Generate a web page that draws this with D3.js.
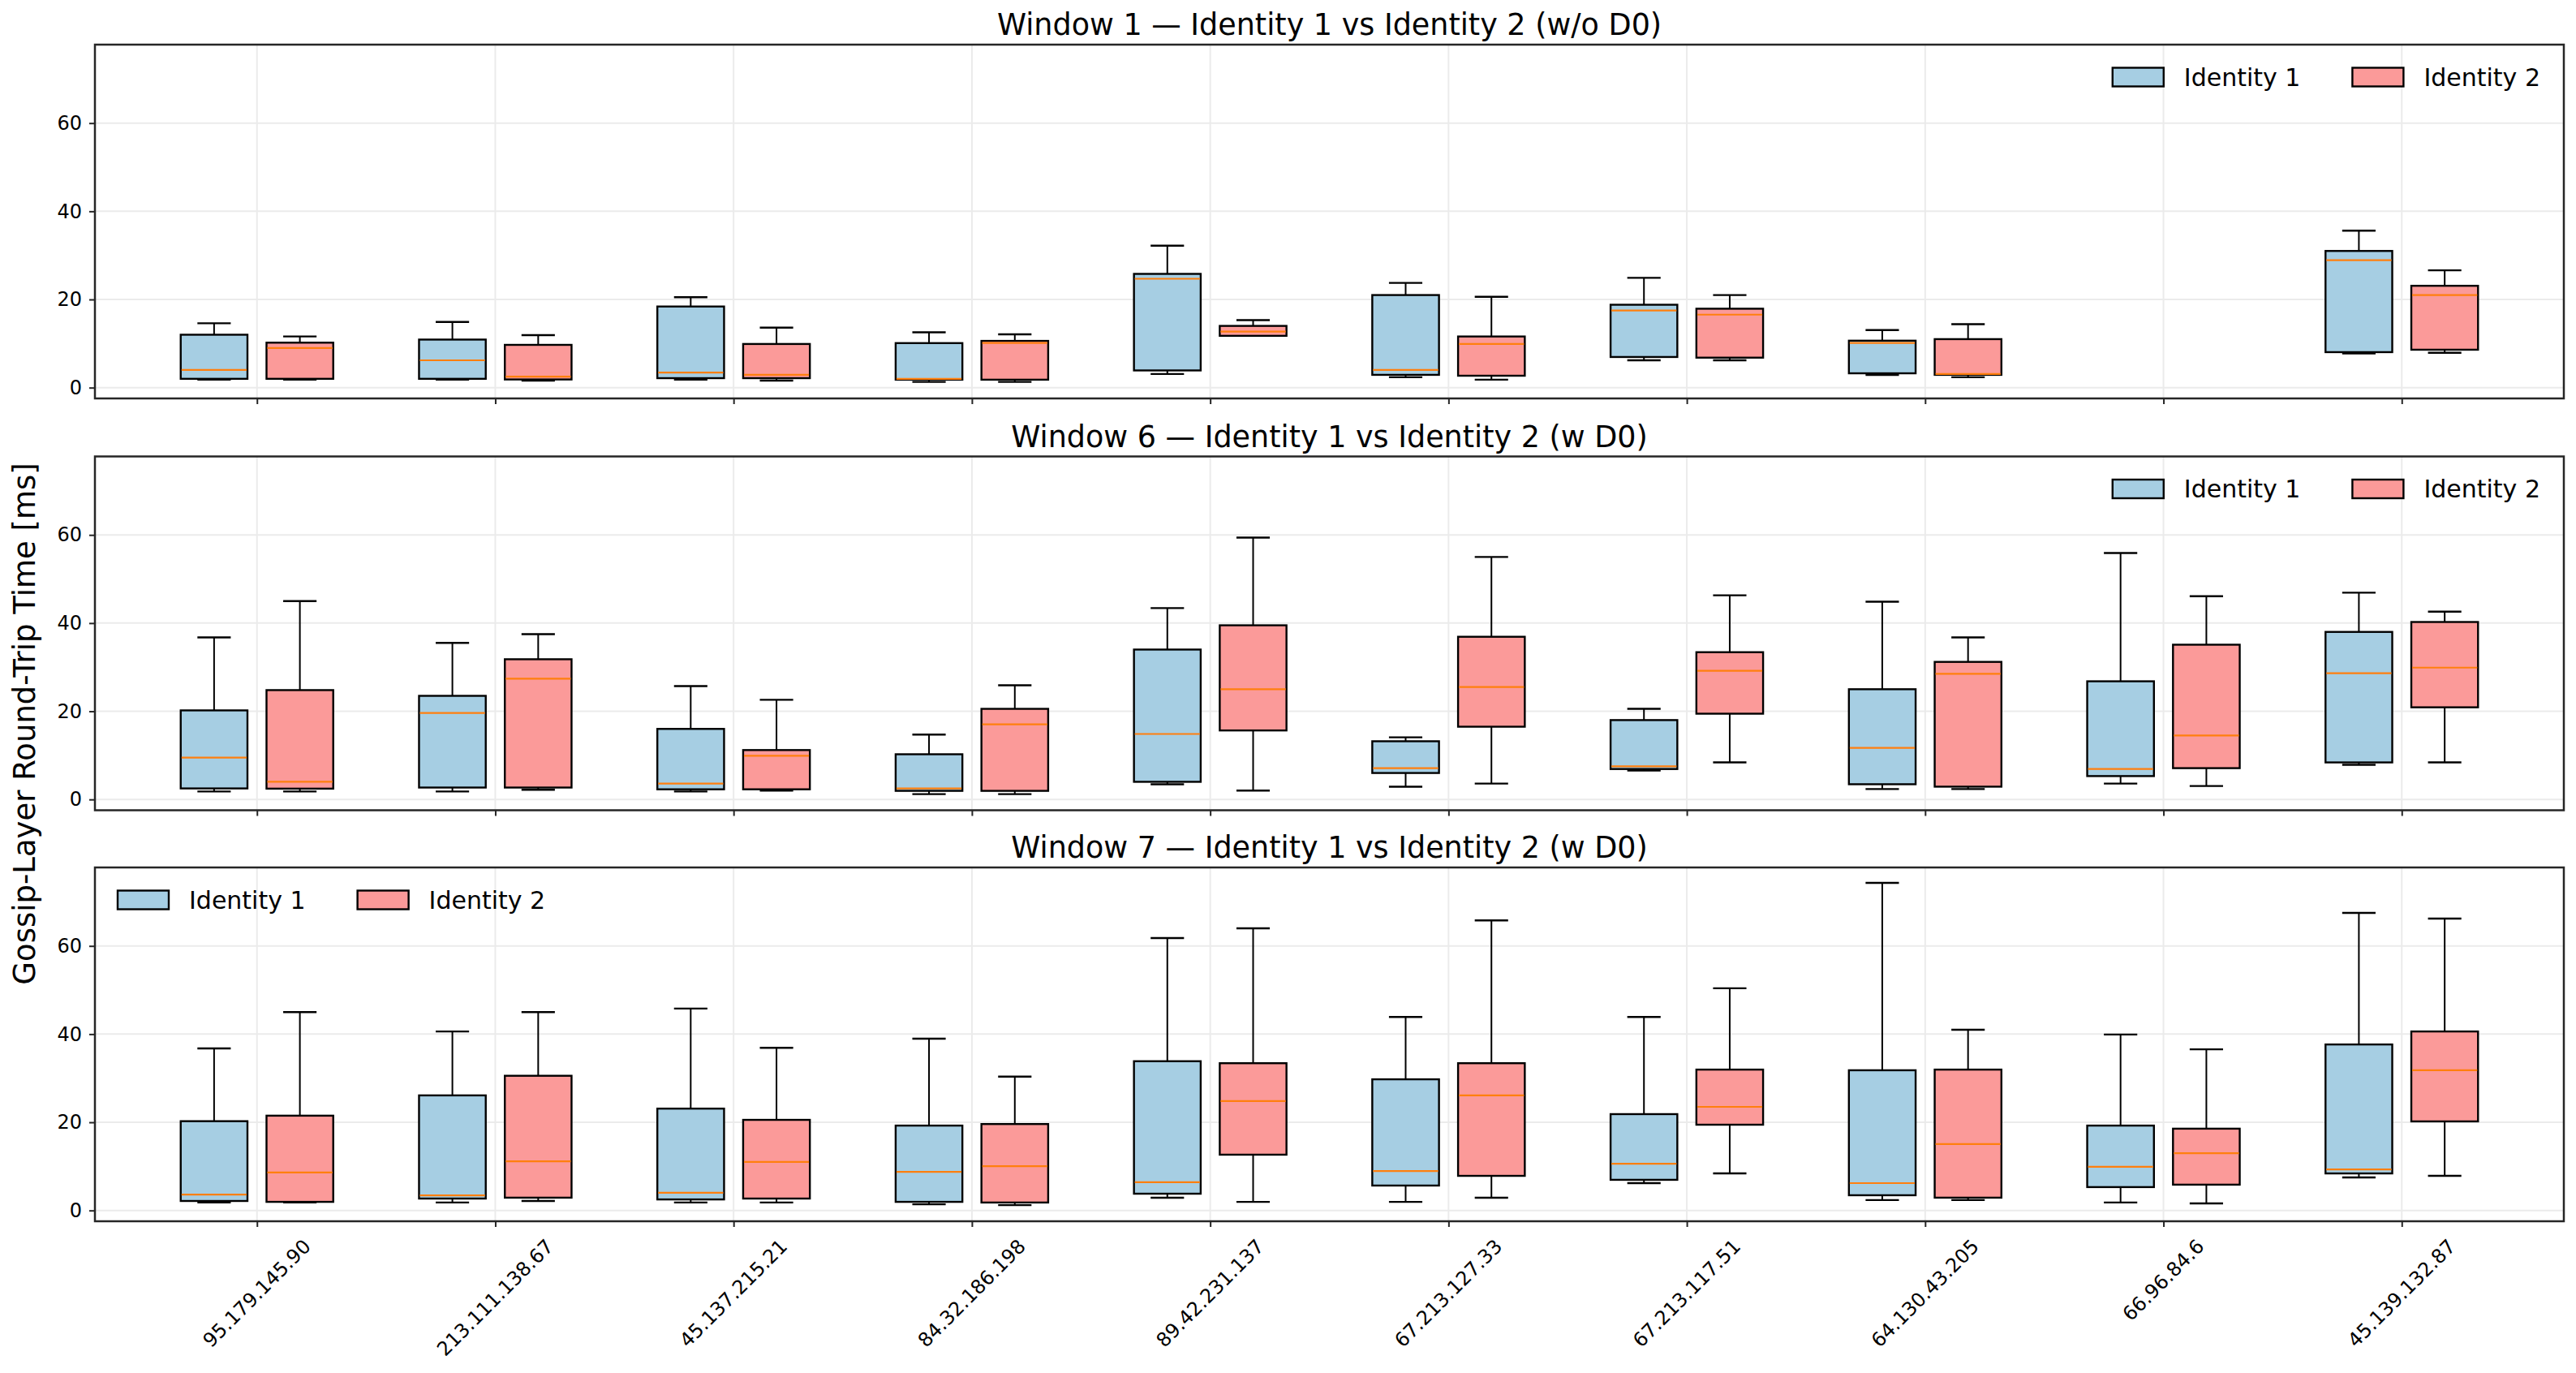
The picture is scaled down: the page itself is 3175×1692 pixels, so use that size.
<!DOCTYPE html>
<meta charset="utf-8">
<script src="https://d3js.org/d3.v7.min.js"></script>
<style>
    body { margin: 0; background: #fff; }
    text { font-family: "DejaVu Sans", sans-serif; fill: #000; }
</style>
<div id="chart"></div>

<script>
    const hosts = ["95.179.145.90", "213.111.138.67", "45.137.215.21", "84.32.186.198", "89.42.231.137",
        "67.213.127.33", "67.213.117.51", "64.130.43.205", "66.96.84.6", "45.139.132.87"];

    // each entry: [low whisker, q1, median, q3, high whisker], null = no data
    const w1Id1 = [[1.8, 2.0, 4.0, 12.0, 14.6], [1.8, 2.0, 6.2, 10.9, 14.9], [1.8, 2.15, 3.4, 18.4, 20.5],
        [1.3, 1.8, 2.0, 10.1, 12.55], [3.1, 3.9, 24.7, 25.8, 32.2], [2.35, 2.9, 4.0, 21.0, 23.75],
        [6.2, 6.95, 17.5, 18.8, 24.9], [2.9, 3.25, 10.15, 10.65, 13.05], null, [7.75, 8.05, 28.9, 31.0, 35.6]];
    const w1Id2 = [[1.8, 2.0, 9.0, 10.2, 11.6], [1.6, 1.85, 2.5, 9.7, 11.9], [1.6, 2.15, 2.9, 9.9, 13.6],
        [1.3, 1.8, 10.15, 10.6, 12.1], [11.75, 11.75, 12.7, 14.0, 15.3], [1.8, 2.7, 9.9, 11.6, 20.6],
        [6.2, 6.8, 16.55, 17.9, 21.0], [2.35, 2.9, 3.1, 11.0, 14.4], null, [7.9, 8.6, 21.0, 23.1, 26.6]];

    const w6Id1 = [[1.8, 2.5, 9.5, 20.2, 36.75], [1.8, 2.7, 19.6, 23.5, 35.5], [1.8, 2.3, 3.6, 16.0, 25.7],
        [1.2, 1.95, 2.5, 10.25, 14.7], [3.45, 4.0, 14.85, 34.0, 43.4], [2.9, 6.0, 7.1, 13.2, 14.1],
        [6.55, 6.9, 7.5, 18.0, 20.55], [2.35, 3.45, 11.7, 25.0, 44.85], [3.6, 5.3, 6.9, 26.8, 55.9],
        [7.85, 8.4, 28.65, 38.0, 46.9]];
    const w6Id2 = [[1.8, 2.45, 4.0, 24.8, 45.0], [2.2, 2.7, 27.4, 31.8, 37.5], [2.0, 2.3, 9.9, 11.2, 22.6],
        [1.2, 1.95, 17.05, 20.55, 25.9], [2.0, 15.65, 25.0, 39.5, 59.4], [3.6, 16.5, 25.5, 36.9, 55.0],
        [8.4, 19.45, 29.2, 33.4, 46.3], [2.35, 2.9, 28.5, 31.2, 36.75], [3.05, 7.1, 14.5, 35.1, 46.1],
        [8.4, 20.9, 29.9, 40.25, 42.6]];

    const w7Id1 = [[1.8, 2.15, 3.6, 20.25, 36.75], [1.8, 2.7, 3.4, 26.1, 40.6], [1.8, 2.5, 4.0, 23.1, 45.8],
        [1.4, 1.95, 8.75, 19.25, 38.95], [2.9, 3.8, 6.4, 33.85, 61.8], [1.95, 5.65, 8.95, 29.75, 43.9],
        [6.2, 6.95, 10.6, 21.85, 43.9], [2.35, 3.45, 6.2, 31.8, 74.3], [1.8, 5.3, 9.9, 19.25, 39.9],
        [7.5, 8.4, 9.3, 37.65, 67.5]];
    const w7Id2 = [[1.8, 1.95, 8.6, 21.5, 45.0], [2.15, 2.9, 11.15, 30.55, 45.0], [1.8, 2.7, 11.0, 20.55, 36.9],
        [1.2, 1.8, 10.05, 19.6, 30.35], [1.95, 12.65, 24.8, 33.4, 64.0], [2.9, 7.85, 26.1, 33.4, 65.8],
        [8.4, 19.45, 23.5, 31.95, 50.4], [2.35, 2.9, 15.05, 31.95, 41.0], [1.6, 5.85, 13.0, 18.55, 36.55],
        [7.85, 20.2, 31.8, 40.6, 66.2]];

    const seriesNames = ["Identity 1", "Identity 2"];
    const seriesColors = ["#a6cee3", "#fb9a99"];
    const yTicks = [0, 20, 40, 60];

    const panels = [
        {title: "Window 1 — Identity 1 vs Identity 2 (w/o D0)", series: [w1Id1, w1Id2], legend: "right"},
        {title: "Window 6 — Identity 1 vs Identity 2 (w D0)", series: [w6Id1, w6Id2], legend: "right"},
        {title: "Window 7 — Identity 1 vs Identity 2 (w D0)", series: [w7Id1, w7Id2], legend: "left"}
    ];

    const width = 3175, height = 1692;
    const plotLeft = 117, plotRight = 3160;
    const panelTops = [55, 562.5, 1069], panelH = 436;
    const offset = 0.18, boxW = 0.28;

    const svg = d3.select("#chart")
        .append("svg")
        .attr("width", width)
        .attr("height", height);

    const x = d3.scaleLinear()
        .domain([-0.68, hosts.length - 1 + 0.68])
        .range([plotLeft, plotRight]);

    panels.forEach((p, pi) => {
        const top = panelTops[pi];
        const y = d3.scaleLinear().domain([-2.45, 77.8]).range([top + panelH, top]);
        const g = svg.append("g");

        // grid
        g.selectAll(".hgrid").data(yTicks).join("line")
            .attr("x1", plotLeft).attr("x2", plotRight)
            .attr("y1", d => y(d)).attr("y2", d => y(d))
            .attr("stroke", "#ebebeb").attr("stroke-width", 2);
        g.selectAll(".vgrid").data(hosts).join("line")
            .attr("x1", (d, i) => x(i)).attr("x2", (d, i) => x(i))
            .attr("y1", top).attr("y2", top + panelH)
            .attr("stroke", "#ebebeb").attr("stroke-width", 2);

        // boxes
        p.series.forEach((data, k) => {
            const dx = k === 0 ? -offset : offset;
            data.forEach((s, i) => {
                if (!s) return;
                const [lo, q1, med, q3, hi] = s;
                const cx = x(i + dx);
                const half = x(i + dx + boxW / 2) - cx;
                const capHalf = half / 2;
                const bg = g.append("g");
                bg.append("line").attr("x1", cx).attr("x2", cx).attr("y1", y(lo)).attr("y2", y(q1))
                    .attr("stroke", "#000").attr("stroke-width", 2);
                bg.append("line").attr("x1", cx).attr("x2", cx).attr("y1", y(q3)).attr("y2", y(hi))
                    .attr("stroke", "#000").attr("stroke-width", 2);
                [lo, hi].forEach(v => {
                    bg.append("line").attr("x1", cx - capHalf).attr("x2", cx + capHalf)
                        .attr("y1", y(v)).attr("y2", y(v))
                        .attr("stroke", "#000").attr("stroke-width", 2.4);
                });
                bg.append("rect")
                    .attr("x", cx - half).attr("width", 2 * half)
                    .attr("y", y(q3)).attr("height", Math.max(y(q1) - y(q3), 0.5))
                    .attr("fill", seriesColors[k])
                    .attr("stroke", "#000").attr("stroke-width", 2.4);
                bg.append("line").attr("x1", cx - half + 1).attr("x2", cx + half - 1)
                    .attr("y1", y(med)).attr("y2", y(med))
                    .attr("stroke", "#ff7f0e").attr("stroke-width", 2.2);
            });
        });

        // axes
        const yAxis = g.append("g")
            .attr("transform", `translate(${plotLeft},0)`)
            .call(d3.axisLeft(y).tickValues(yTicks).tickSize(7).tickPadding(9));
        yAxis.select(".domain").remove();
        yAxis.selectAll("line").attr("stroke", "#262626").attr("stroke-width", 2);
        yAxis.selectAll("text").attr("font-size", 24).attr("font-family", "DejaVu Sans").attr("fill", "#000");

        const xAxis = g.append("g")
            .attr("transform", `translate(0,${top + panelH})`)
            .call(d3.axisBottom(x).tickValues(d3.range(hosts.length)).tickSize(7).tickFormat(""));
        xAxis.select(".domain").remove();
        xAxis.selectAll("line").attr("stroke", "#262626").attr("stroke-width", 2);

        g.append("rect")
            .attr("x", plotLeft).attr("y", top)
            .attr("width", plotRight - plotLeft).attr("height", panelH)
            .attr("fill", "none").attr("stroke", "#262626").attr("stroke-width", 2.5);

        // title
        g.append("text")
            .attr("x", (plotLeft + plotRight) / 2).attr("y", top - 12)
            .attr("text-anchor", "middle")
            .attr("font-size", 36.5)
            .text(p.title);

        // legend
        const lg = g.append("g");
        const ly = top + 40;
        const items = seriesNames.map((name, k) => {
            const t = lg.append("text").attr("font-size", 30).attr("dominant-baseline", "central")
                .attr("y", ly).text(name);
            return {t, w: t.node().getComputedTextLength(), k};
        });
        const patchW = 63, patchH = 23, gap = 25, colGap = 64;
        let cursor;
        if (p.legend === "left") {
            cursor = plotLeft + 28;
        } else {
            const total = items.reduce((a, it) => a + patchW + gap + it.w, 0) + colGap * (items.length - 1);
            cursor = plotRight - 29 - total;
        }
        items.forEach(it => {
            lg.append("rect")
                .attr("x", cursor).attr("y", ly - patchH / 2)
                .attr("width", patchW).attr("height", patchH)
                .attr("fill", seriesColors[it.k])
                .attr("stroke", "#000").attr("stroke-width", 2.4);
            cursor += patchW + gap;
            it.t.attr("x", cursor);
            cursor += it.w + colGap;
        });

        // rotated host labels on the last panel only
        if (pi === panels.length - 1) {
            const labelTop = top + panelH + 17;
            hosts.forEach((h, i) => {
                const t = g.append("text")
                    .attr("font-size", 24)
                    .attr("text-anchor", "middle")
                    .attr("dominant-baseline", "central")
                    .text(h);
                const w = t.node().getComputedTextLength();
                const cy = labelTop + (w + 28) * 0.3536;
                t.attr("transform", `translate(${x(i)},${cy}) rotate(-45)`);
            });
        }
    });

    // shared y label
    svg.append("text")
        .attr("transform", "translate(43,892) rotate(-90)")
        .attr("text-anchor", "middle")
        .attr("font-size", 37)
        .text("Gossip-Layer Round-Trip Time [ms]");
</script>
